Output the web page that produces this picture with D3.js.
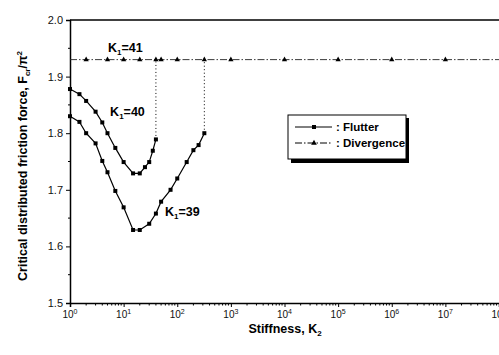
<!DOCTYPE html>
<html>
<head>
<meta charset="utf-8">
<script src="https://cdn.jsdelivr.net/npm/d3@7"></script>
<style>
	body { margin: 0; background: #fff; }
	svg { display: block; font-family: "Liberation Sans", Arial, sans-serif; }
</style>
</head>
<body>
<div id="chart"></div>
<script>
// ----------------------------------
// DATA
// ----------------------------------

// K1 = 40, flutter branch
const k2Flutter40 = [1, 1.5, 2, 3, 4, 5, 7, 10, 15, 20, 25, 30, 35, 40];
const fFlutter40 = [1.878, 1.869, 1.857, 1.838, 1.819, 1.800, 1.774, 1.749, 1.729, 1.729, 1.740, 1.749, 1.769, 1.789];

// K1 = 39, flutter branch
const k2Flutter39 = [1, 1.5, 2, 3, 4, 5, 7, 10, 15, 20, 30, 40, 50, 75, 100, 150, 200, 250, 320];
const fFlutter39 = [1.830, 1.820, 1.800, 1.782, 1.751, 1.731, 1.698, 1.669, 1.629, 1.629, 1.640, 1.658, 1.679, 1.700, 1.720, 1.749, 1.770, 1.779, 1.800];

// K1 = 41, divergence
const k2Divergence = [1, 2, 5, 10, 20, 40, 50, 100, 320, 1e3, 1e4, 1e5, 1e6, 1e7, 1e8];
const fDivergence = [1.93, 1.93, 1.93, 1.93, 1.93, 1.93, 1.93, 1.93, 1.93, 1.93, 1.93, 1.93, 1.93, 1.93, 1.93];

const yTicks = [1.5, 1.6, 1.7, 1.8, 1.9, 2.0];
const xDecades = [0, 1, 2, 3, 4, 5, 6, 7, 8];

const curveLabels = [
	{k1: '41', k2: 5.1, f: 1.944},
	{k1: '40', k2: 5.6, f: 1.830},
	{k1: '39', k2: 59, f: 1.654}
];

// ----------------------------------
// SCALES AND AXES
// ----------------------------------

const width = 499, height = 355;
const margin = {top: 20, right: 0, bottom: 52, left: 70};

const x = d3.scaleLog()
	.domain([1, 1e8])
	.range([margin.left, width]);

const y = d3.scaleLinear()
	.domain([1.5, 2.0])
	.range([303, margin.top]);

const svg = d3.select('#chart')
	.append('svg')
	.attr('width', width)
	.attr('height', height);

// frame lines
svg.append('line')
	.attr('x1', x(1)).attr('x2', width)
	.attr('y1', y(2.0)).attr('y2', y(2.0))
	.attr('stroke', '#000').attr('stroke-width', 1.5);

// y axis
const yAxis = d3.axisLeft(y)
	.tickValues(yTicks)
	.tickFormat(d3.format('.1f'))
	.tickSize(4)
	.tickPadding(3);

const gy = svg.append('g')
	.attr('transform', `translate(${ x(1) },0)`)
	.call(yAxis);
gy.select('.domain').attr('stroke-width', 1.5);
gy.selectAll('text').style('font-size', '11px').attr('fill', '#111');

const yMinor = yTicks.slice(0, -1).map(d => d + 0.05);
gy.selectAll('.minor')
	.data(yMinor)
	.enter()
	.append('line')
	.attr('class', 'minor')
	.attr('x1', -2).attr('x2', 0)
	.attr('y1', d => y(d)).attr('y2', d => y(d))
	.attr('stroke', '#000');

// x axis
const xAxis = d3.axisBottom(x)
	.tickValues(xDecades.map(e => Math.pow(10, e)))
	.tickFormat('')
	.tickSize(4);

const gx = svg.append('g')
	.attr('transform', `translate(0,${ y(1.5) })`)
	.call(xAxis);
gx.select('.domain').attr('stroke-width', 1.5);

const xMinor = [];
xDecades.slice(0, -1).forEach(e => {
	for (let m = 2; m < 10; m++) xMinor.push(m * Math.pow(10, e));
});
gx.selectAll('.minor')
	.data(xMinor)
	.enter()
	.append('line')
	.attr('class', 'minor')
	.attr('x1', d => x(d)).attr('x2', d => x(d))
	.attr('y1', 0).attr('y2', 2.5)
	.attr('stroke', '#000');

// the last decade label sits on the page edge, as in the original
const xLab = gx.selectAll('.xlab')
	.data(xDecades)
	.enter()
	.append('text')
	.attr('class', 'xlab')
	.attr('x', d => x(Math.pow(10, d)))
	.attr('y', 15)
	.attr('text-anchor', 'middle')
	.style('font-size', '10px')
	.attr('fill', '#111');
xLab.append('tspan').text('10');
xLab.append('tspan')
	.attr('dy', -4)
	.style('font-size', '7px')
	.text(d => d);

// axis titles
svg.append('text')
	.attr('x', 285)
	.attr('y', 333)
	.attr('text-anchor', 'middle')
	.style('font-size', '12.5px')
	.style('font-weight', 'bold')
	.call(t => {
		t.append('tspan').text('Stiffness, K');
		t.append('tspan').attr('dy', 3).style('font-size', '8px').text('2');
	});

svg.append('text')
	.attr('transform', 'translate(27,166) rotate(-90)')
	.attr('text-anchor', 'middle')
	.style('font-size', '12.5px')
	.style('font-weight', 'bold')
	.call(t => {
		t.append('tspan').text('Critical distributed friction force, F');
		t.append('tspan').attr('dy', 3).style('font-size', '8px').text('cr');
		t.append('tspan').attr('dy', -3).text('/\u03c0');
		t.append('tspan').attr('dy', -5).style('font-size', '8px').text('2');
	});

// ----------------------------------
// Add the data
// ----------------------------------

const line = d3.line()
	.x(d => x(d[0]))
	.y(d => y(d[1]));

const divPts = k2Divergence.map((k, i) => [k, fDivergence[i]]);
svg.append('path')
	.datum(divPts)
	.attr('d', line)
	.attr('fill', 'none')
	.attr('stroke', '#222')
	.attr('stroke-width', 0.9)
	.attr('stroke-dasharray', '7,2,1.5,2');

svg.selectAll('.tri')
	.data(divPts.slice(1, -1))
	.enter()
	.append('path')
	.attr('class', 'tri')
	.attr('transform', d => `translate(${ x(d[0]) },${ y(d[1]) })`)
	.attr('d', d3.symbol(d3.symbolTriangle, 12))
	.attr('fill', '#000');

const flutterSets = [
	{k2: k2Flutter40, f: fFlutter40},
	{k2: k2Flutter39, f: fFlutter39}
];

flutterSets.forEach(s => {
	const pts = s.k2.map((k, i) => [k, s.f[i]]);
	const last = pts[pts.length - 1];

	// jump to the divergence level
	svg.append('line')
		.attr('x1', x(last[0])).attr('x2', x(last[0]))
		.attr('y1', y(last[1])).attr('y2', y(fDivergence[0]))
		.attr('stroke', '#000')
		.attr('stroke-dasharray', '1,2.5');

	svg.append('path')
		.datum(pts)
		.attr('d', line)
		.attr('fill', 'none')
		.attr('stroke', '#000')
		.attr('stroke-width', 1.2);

	svg.selectAll(null)
		.data(pts)
		.enter()
		.append('rect')
		.attr('x', d => x(d[0]) - 2)
		.attr('y', d => y(d[1]) - 2)
		.attr('width', 4)
		.attr('height', 4)
		.attr('fill', '#000');
});

// curve labels
curveLabels.forEach(l => {
	const t = svg.append('text')
		.attr('x', x(l.k2))
		.attr('y', y(l.f))
		.style('font-size', '12.5px')
		.style('font-weight', 'bold');
	t.append('tspan').text('K');
	t.append('tspan').attr('dy', 3).style('font-size', '8px').text('1');
	t.append('tspan').attr('dy', -3).text('=' + l.k1);
});

// ----------------------------------
// Legend
// ----------------------------------

const legend = svg.append('g').attr('transform', 'translate(288,115)');
legend.append('rect')
	.attr('x', 3).attr('y', 3)
	.attr('width', 118).attr('height', 45)
	.attr('fill', '#000');
legend.append('rect')
	.attr('width', 118).attr('height', 44)
	.attr('fill', '#fff')
	.attr('stroke', '#000');

const legendItems = [
	{name: ': Flutter', dash: null, y: 12},
	{name: ': Divergence', dash: '7,2,1.5,2', y: 28}
];

legendItems.forEach(it => {
	legend.append('line')
		.attr('x1', 7).attr('x2', 44)
		.attr('y1', it.y).attr('y2', it.y)
		.attr('stroke', '#000')
		.attr('stroke-dasharray', it.dash);
	if (it.dash) {
		legend.append('path')
			.attr('transform', `translate(26,${ it.y })`)
			.attr('d', d3.symbol(d3.symbolTriangle, 14))
			.attr('fill', '#000');
	} else {
		legend.append('rect')
			.attr('x', 24).attr('y', it.y - 2)
			.attr('width', 4).attr('height', 4)
			.attr('fill', '#000');
	}
	legend.append('text')
		.attr('x', 48)
		.attr('y', it.y + 4)
		.style('font-size', '11.5px')
		.style('font-weight', 'bold')
		.text(it.name);
});
</script>
</body>
</html>
